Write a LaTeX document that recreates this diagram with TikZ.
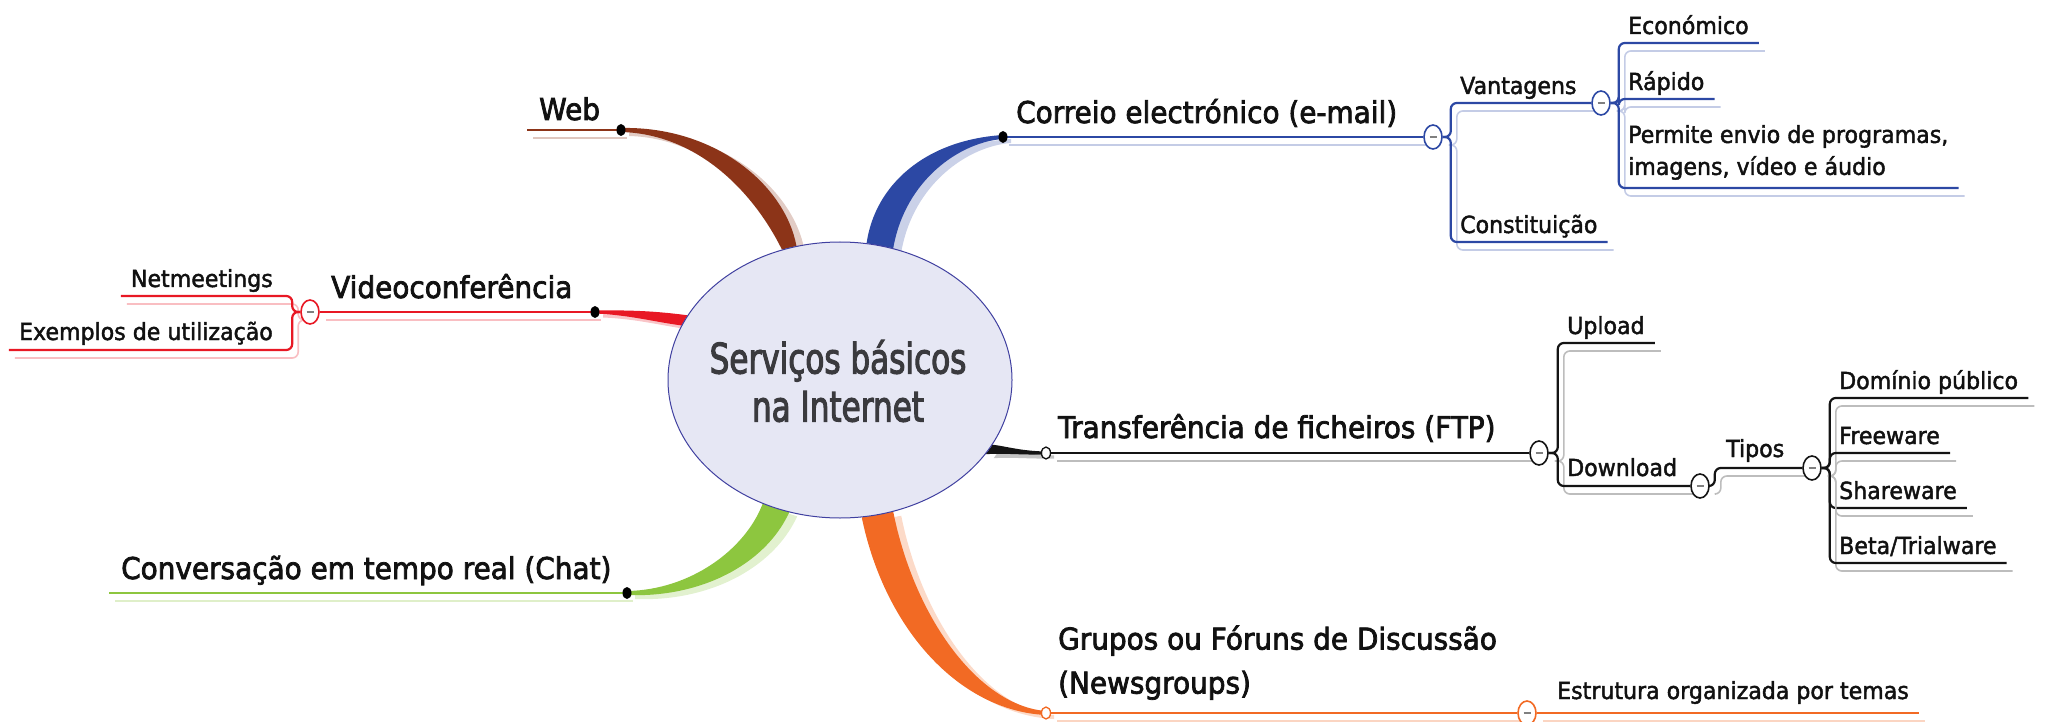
\documentclass[tikz,border=0pt]{standalone}
\usepackage{fontspec}
\setmainfont{DejaVu Sans}
\newfontfamily\rootfont{DejaVu Sans}[FakeStretch=0.74, FakeBold=2.5]
\newfontfamily\lblfont{DejaVu Sans}[FakeStretch=0.93, FakeBold=2.5]
\newfontfamily\subfont{DejaVu Sans}[FakeStretch=0.94, FakeBold=1.8]
\usetikzlibrary{shapes.geometric,backgrounds}
\definecolor{cbrown}{RGB}{140,52,24}
\definecolor{cred}{RGB}{232,24,36}
\definecolor{cgreen}{RGB}{141,198,63}
\definecolor{cblue}{RGB}{44,72,164}
\definecolor{corange}{RGB}{242,106,36}
\definecolor{cblack}{RGB}{20,20,20}
\definecolor{rootfill}{RGB}{230,231,244}
\definecolor{rootdraw}{RGB}{64,64,160}
\definecolor{txt}{RGB}{17,17,17}
\definecolor{roottxt}{RGB}{58,58,62}
\tikzset{
  rootnode/.style={ellipse, minimum width=344pt, minimum height=276pt, inner sep=0pt,
    fill=rootfill, draw=rootdraw, line width=1pt},
  roottext/.style={font=\rootfont\fontsize{42}{48}\selectfont, text=roottxt, align=center},
  mainlbl/.style={font=\lblfont\fontsize{30}{44}\selectfont, text=txt, inner xsep=12pt, inner ysep=0pt},
  sublbl/.style={font=\subfont\fontsize{23.5}{32}\selectfont, text=txt, inner xsep=10pt, inner ysep=0pt},
  ul/.style={line width=2.2pt, draw=#1, rounded corners=6pt,
    preaction={draw=#1!28!white, line width=1.6pt, transform canvas={shift={(6pt,-8pt)}}}},
  knob/.style={ellipse, minimum width=18pt, minimum height=24pt, inner sep=0pt,
    draw=#1, line width=1.6pt, fill=white,
    path picture={\draw[gray, line width=2.4pt]
      ([xshift=-3.5pt]path picture bounding box.center) -- ([xshift=3.5pt]path picture bounding box.center);}},
  bdot/.style={ellipse, minimum width=9pt, minimum height=12pt, inner sep=0pt, fill=black},
  odot/.style={ellipse, minimum width=9pt, minimum height=12pt, inner sep=0pt,
    draw=#1, line width=1.3pt, fill=white},
  limb/.style={fill=#1, preaction={fill=#1!25!white, transform canvas={shift={(8pt,-4pt)}}}},
}
\begin{document}
\begin{tikzpicture}[x=1pt,y=-1pt]
\useasboundingbox (0,0) rectangle (2046,722);

% central node
\node[rootnode] (root) at (840,380) {};
\node[roottext] (roottxt) at (838,381) {Serviços básicos\\na Internet};

% ---------- Web ----------
\node[bdot] (wdot) at (621,130) {};
\node[mainlbl, anchor=base west] (web) at (527,120) {Web};

% ---------- Videoconferencia ----------
\node[bdot] (vdot) at (595,312) {};
\node[knob=cred] (vc1) at (310,312) {};
\node[mainlbl, anchor=base west] (video) at (319,298) {Videoconferência};
\node[sublbl, anchor=base east] (net) at (283,287) {Netmeetings};
\node[sublbl, anchor=base east] (exe) at (283,340) {Exemplos de utilização};

% ---------- Chat ----------
\node[bdot] (cdot) at (627,593) {};
\node[mainlbl, anchor=base west] (chat) at (109,579) {Conversação em tempo real (Chat)};

% ---------- Email ----------
\node[bdot] (edot) at (1003,137) {};
\node[mainlbl, anchor=base west] (email) at (1004,123) {Correio electrónico (e-mail)};
\node[knob=cblue] (ec1) at (1433,137) {};
\node[sublbl, anchor=base west] (vant) at (1450,94) {Vantagens};
\node[sublbl, anchor=base west] (const) at (1450,233) {Constituição};
\node[knob=cblue] (ec2) at (1601,103) {};
\node[sublbl, anchor=base west] (econ) at (1618,34) {Económico};
\node[sublbl, anchor=base west] (rap) at (1618,90) {Rápido};
\node[sublbl, anchor=south west, inner ysep=8pt, align=left] (perm) at (1618,188)
  {Permite envio de programas,\\imagens, vídeo e áudio};

% ---------- FTP ----------
\node[odot=cblack] (fdot) at (1046,453) {};
\node[mainlbl, anchor=base west] (ftp) at (1046,438) {Transferência de ficheiros (FTP)};
\node[knob=cblack] (fc1) at (1539,453) {};
\node[sublbl, anchor=base west] (upl) at (1557,334) {Upload};
\node[sublbl, anchor=base west] (down) at (1557,476) {Download};
\node[knob=cblack] (fc2) at (1700,486) {};
\node[sublbl, anchor=base west] (tipos) at (1716,457) {Tipos};
\node[knob=cblack] (fc3) at (1812,468) {};
\node[sublbl, anchor=base west] (dom) at (1829,389) {Domínio público};
\node[sublbl, anchor=base west] (free) at (1829,444) {Freeware};
\node[sublbl, anchor=base west] (share) at (1829,499) {Shareware};
\node[sublbl, anchor=base west] (beta) at (1829,554) {Beta/Trialware};

% ---------- Newsgroups ----------
\node[odot=corange] (ndot) at (1046,713) {};
\node[mainlbl, anchor=south west, inner ysep=13pt, align=left] (news) at (1046,713)
  {Grupos ou Fóruns de Discussão\\(Newsgroups)};
\node[knob=corange] (nc1) at (1527,713) {};
\node[sublbl, anchor=base west] (estr) at (1547,699) {Estrutura organizada por temas};

\begin{pgfonlayer}{background}
% thick limbs from the centre
\fill[limb=cbrown] ([yshift=2pt]wdot.center) .. controls (715,126) and (785,185) .. (root.108)
  -- (root.114) .. controls (755,195) and (700,134) .. ([yshift=-2pt]wdot.center) -- cycle;
\fill[limb=cred] ([yshift=1.5pt]vdot.center) .. controls (630,310) and (655,311) .. (root.157)
  -- (root.161) .. controls (655,322) and (630,315) .. ([yshift=-1.5pt]vdot.center) -- cycle;
\fill[limb=cgreen] ([yshift=2pt]cdot.center) .. controls (690,590) and (745,550) .. (root.238)
  -- (root.249) .. controls (765,565) and (700,598) .. ([yshift=-2pt]cdot.center) -- cycle;
\fill[limb=cblue] (root.79) .. controls (875,185) and (925,140) .. ([yshift=2pt]edot.center)
  -- ([yshift=-2pt]edot.center) .. controls (960,142) and (905,180) .. (root.68) -- cycle;
\fill[limb=cblack] ([yshift=1.5pt]fdot.center) .. controls (1020,451) and (1005,446) .. (root.337)
  -- (root.333) .. controls (1005,453) and (1020,455) .. ([yshift=-1.5pt]fdot.center) -- cycle;
\fill[limb=corange] (root.279) .. controls (885,630) and (960,711) .. ([yshift=-2pt]ndot.center)
  -- ([yshift=2pt]ndot.center) .. controls (980,706) and (915,620) .. (root.292) -- cycle;

% underlines and brackets
\draw[ul=cbrown] (wdot.center) -- (wdot.center -| web.base west);

\draw[ul=cred] (vdot.center) -- (vc1.east);
\draw[ul=cred] (vc1.west) -- ++(-8pt,0) |- ([yshift=-9pt]net.base west);
\draw[ul=cred] (vc1.west) -- ++(-8pt,0) |- ([yshift=-10pt]exe.base west);

\draw[ul=cgreen] (cdot.center) -- (cdot.center -| chat.base west);

\draw[ul=cblue] (edot.center) -- (ec1.west);
\draw[ul=cblue] (ec1.east) -- ++(8pt,0) |- (ec2.west);
\draw[ul=cblue] (ec1.east) -- ++(8pt,0) |- ([yshift=-9pt]const.base east);
\draw[ul=cblue] (ec2.east) -- ++(8pt,0) |- ([yshift=-9pt]econ.base east);
\draw[ul=cblue] (ec2.east) -- ++(8pt,0) |- ([yshift=-9pt]rap.base east);
\draw[ul=cblue] (ec2.east) -- ++(8pt,0) |- (perm.south east);

\draw[ul=cblack] (fdot.east) -- (fc1.west);
\draw[ul=cblack] (fc1.east) -- ++(9pt,0) |- ([yshift=-9pt]upl.base east);
\draw[ul=cblack] (fc1.east) -- ++(9pt,0) |- (fc2.west);
\draw[ul=cblack] (fc2.east) -- ++(5pt,0) |- (fc3.west);
\draw[ul=cblack] (fc3.east) -- ++(8pt,0) |- ([yshift=-9pt]dom.base east);
\draw[ul=cblack] (fc3.east) -- ++(8pt,0) |- ([yshift=-9pt]free.base east);
\draw[ul=cblack] (fc3.east) -- ++(8pt,0) |- ([yshift=-9pt]share.base east);
\draw[ul=cblack] (fc3.east) -- ++(8pt,0) |- ([yshift=-9pt]beta.base east);

\draw[ul=corange] (ndot.east) -- (nc1.west);
\draw[ul=corange] (nc1.east) -- (nc1.east -| estr.base east);
\end{pgfonlayer}
\end{tikzpicture}
\end{document}
